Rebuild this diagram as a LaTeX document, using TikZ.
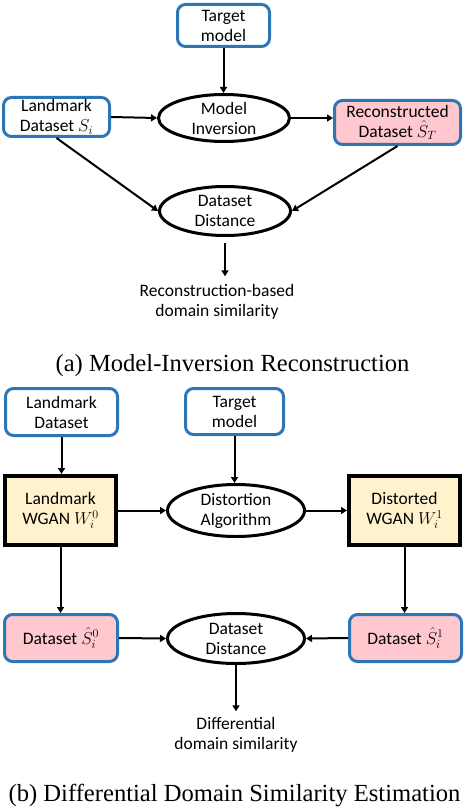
\documentclass[tikz,border=0pt]{standalone}
\usepackage{fontspec}
\setmainfont{Carlito}
\newfontfamily\capfont{Liberation Serif}
\usetikzlibrary{arrows.meta,shapes.geometric,calc}
\definecolor{boxblue}{RGB}{46,117,182}
\definecolor{boxpink}{RGB}{255,199,206}
\definecolor{boxyellow}{RGB}{255,242,204}
\tikzset{
  lbl/.style={font=\fontsize{17.5}{20}\selectfont, align=center},
  bluebox/.style={lbl, draw=boxblue, line width=3pt, rounded corners=8pt, fill=white, inner sep=0pt},
  pinkbox/.style={bluebox, fill=boxpink},
  wganbox/.style={lbl, draw=black, line width=4pt, fill=boxyellow, inner sep=0pt},
  oval/.style={lbl, ellipse, draw=black, line width=3pt, inner sep=0pt},
  outtxt/.style={lbl, inner sep=0pt},
  captxt/.style={font=\capfont\fontsize{24.6}{28}\selectfont, inner sep=0pt},
  arr/.style={-{Triangle[length=6pt,width=7pt]}, line width=2pt, black},
}
\begin{document}
\begin{tikzpicture}[x=1pt,y=-1pt]
\useasboundingbox (0,0) rectangle (466,810);
% ---------- (a) ----------
\node[bluebox, minimum width=92pt, minimum height=42pt] (tgt1) at (223.5,25.5) {Target\\model};
\node[bluebox, minimum width=106pt, minimum height=39pt] (lm1) at (56.5,117) {Landmark\\Dataset $S_i$};
\node[oval, minimum width=131pt, minimum height=47pt] (mi) at (224,118) {Model\\Inversion};
\node[pinkbox, minimum width=126pt, minimum height=44pt] (rec) at (397.5,122.5) {Reconstructed\\Dataset $\hat{S}_T$};
\node[oval, minimum width=131pt, minimum height=49pt] (dd1) at (225,211) {Dataset\\Distance};
\node[outtxt] (out1) at (217,302) {Reconstruction-based\\domain similarity};
\node[captxt] (capa) at (232.5,366) {(a) Model-Inversion Reconstruction};

\draw[arr] (tgt1.south) -- (tgt1.south |- mi.north);
\draw[arr] (lm1.east) -- (mi.west);
\draw[arr] (mi.east) -- (mi.east -| rec.west);
\draw[arr] (lm1.south) -- (dd1.west);
\draw[arr] (rec.south) -- (dd1.east);
\draw[arr, shorten <=6pt, shorten >=8pt] (dd1.south) -- (dd1.south |- out1.north);

% ---------- (b) ----------
\node[bluebox, minimum width=112pt, minimum height=47pt] (lm2) at (61.5,412) {Landmark\\Dataset};
\node[bluebox, minimum width=98pt, minimum height=46pt] (tgt2) at (234.5,411.5) {Target\\model};
\node[wganbox, minimum width=111pt, minimum height=69pt] (w0) at (60.5,510.5) {Landmark\\WGAN $W_i^0$};
\node[oval, minimum width=137pt, minimum height=52pt] (dist) at (236,510.5) {Distortion\\Algorithm};
\node[wganbox, minimum width=111pt, minimum height=69pt] (w1) at (404.5,510.5) {Distorted\\WGAN $W_i^1$};
\node[pinkbox, minimum width=113pt, minimum height=47pt] (s0) at (61,638) {Dataset $\hat{S}_i^0$};
\node[oval, minimum width=137pt, minimum height=50pt] (dd2) at (236,638.5) {Dataset\\Distance};
\node[pinkbox, minimum width=112pt, minimum height=47pt] (s1) at (405.5,638) {Dataset $\hat{S}_i^1$};
\node[outtxt] (out2) at (236,735) {Differential\\domain similarity};
\node[captxt] (capb) at (234.5,795) {(b) Differential Domain Similarity Estimation};

\draw[arr] (lm2.south) -- (w0.north -| lm2.south);
\draw[arr] (tgt2.south) -- (tgt2.south |- dist.north);
\draw[arr] (w0.east) -- (dist.west);
\draw[arr] (dist.east) -- (w1.west);
\draw[arr] (w0.south) -- (s0.north -| w0.south);
\draw[arr] (w1.south) -- (s1.north -| w1.south);
\draw[arr] (s0.east) -- (dd2.west);
\draw[arr] (s1.west) -- (dd2.east);
\draw[arr, shorten >=6pt] (dd2.south) -- (dd2.south |- out2.north);
\end{tikzpicture}
\end{document}
